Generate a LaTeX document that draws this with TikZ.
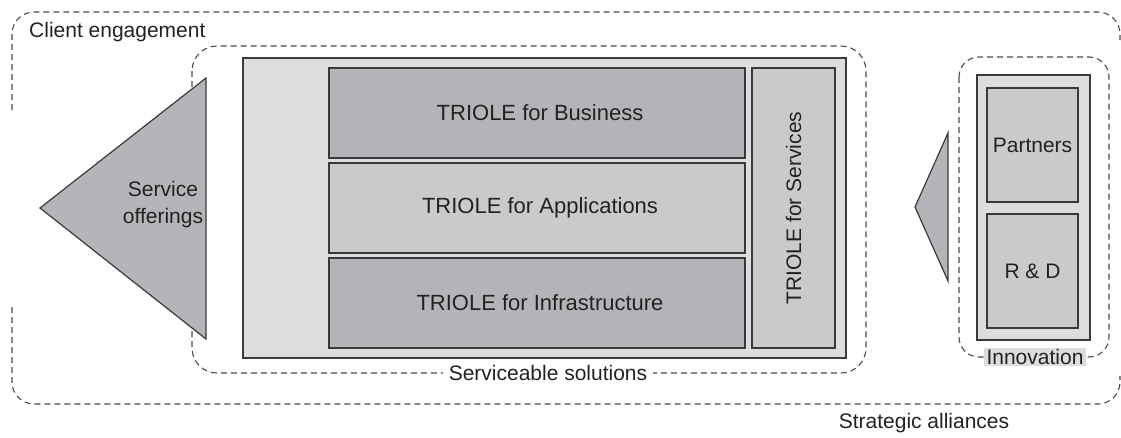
\documentclass[tikz,border=0pt]{standalone}
\usepackage{fontspec}
\setmainfont{Liberation Sans}
\definecolor{lightbox}{HTML}{DCDDDF}
\definecolor{darkbox}{HTML}{B3B4B7}
\definecolor{midbox}{HTML}{C9CACC}
\definecolor{trifill}{HTML}{B4B5B8}
\definecolor{edge}{HTML}{3A3A3A}
\definecolor{dashc}{HTML}{4A4A4A}
\definecolor{txt}{HTML}{222222}
\tikzset{
  dashline/.style={draw=dashc, line width=1.1pt, dash pattern=on 6pt off 4pt},
  box/.style={draw=edge, line width=1.4pt, inner sep=0pt, text=txt},
  bigtxt/.style={font=\fontsize{22}{26}\selectfont},
  lbl/.style={inner sep=2pt, text=txt, align=center},
  tri/.style={draw=edge, line width=1.2pt, fill=trifill, line join=miter},
}
\begin{document}
\begin{tikzpicture}[x=1pt,y=-1pt, font=\fontsize{21}{25}\selectfont]
\useasboundingbox (0,0) rectangle (1121,437);
% outer dashed region
\draw[dashline, rounded corners=22pt] (12,110) -- (12,12) -- (1120,12) -- (1120,40);
\draw[dashline, rounded corners=22pt] (12,307) -- (12,404) -- (1120,404) -- (1120,376);
% middle dashed region
\draw[dashline, rounded corners=25pt] (192,46) rectangle (866,373);
% innovation dashed region
\draw[dashline, rounded corners=20pt] (959,57) rectangle (1109,357);
% triangles
\draw[tri] (40,208) -- (206,78) -- (206,339) -- cycle;
\draw[tri] (915,207) -- (948,133) -- (948,281) -- cycle;
% main block
\node[box, fill=lightbox, minimum width=603pt, minimum height=300pt] (main) at (544.5,208) {};
\node[box, bigtxt, fill=darkbox, minimum width=416pt, minimum height=90pt] (bus) at (537,113) {\hspace{6pt}TRIOLE for Business};
\node[box, bigtxt, fill=midbox, minimum width=416pt, minimum height=90pt] (app) at (537,208) {\hspace{6pt}TRIOLE for Applications};
\node[box, bigtxt, fill=darkbox, minimum width=416pt, minimum height=90pt] (inf) at (537,303) {\hspace{6pt}TRIOLE for Infrastructure};
\node[box, fill=midbox, minimum width=83pt, minimum height=280pt] (srv) at (793.5,208) {};
\node[rotate=90, text=txt] (srvt) at (srv.center) {TRIOLE for Services};
% innovation block
\node[box, fill=lightbox, minimum width=113pt, minimum height=265pt] (inn) at (1033.5,207.5) {};
\node[box, fill=midbox, minimum width=91pt, minimum height=114pt] (par) at (1032.5,145) {Partners};
\node[box, fill=midbox, minimum width=91pt, minimum height=114pt] (rd) at (1032.5,271) {R \& D};
% labels
\node[lbl] (so) at (163,205) {Service\\[2pt]offerings};
\node[lbl, anchor=west] (ce) at (27,32) {Client engagement};
\node[lbl, fill=white, inner xsep=6pt] (ss) at (548,373) {Serviceable solutions};
\node[lbl, fill=lightbox, inner xsep=3pt, inner ysep=1pt] (inl) at (1035,357) {Innovation};
\node[lbl] (sa) at (924,423) {Strategic alliances};
\end{tikzpicture}
\end{document}
